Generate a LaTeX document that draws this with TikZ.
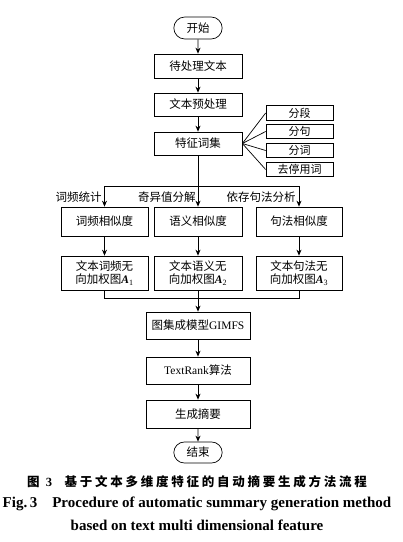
\documentclass[tikz,border=0pt]{standalone}
\usepackage{fontspec}
\setmainfont{Liberation Serif}
\newfontfamily\cjk{Noto Sans CJK SC}
\usetikzlibrary{positioning, arrows.meta, shapes.misc}

\begin{document}
\begin{tikzpicture}[x=1pt, y=-1pt, line width=0.7pt, >={Stealth[length=6pt, width=5pt]},
    box/.style={draw, minimum width=88pt, minimum height=24pt, inner sep=1pt, font=\fontsize{11.5}{13}\selectfont},
    term/.style={draw, rounded rectangle, minimum width=55pt, minimum height=22pt, font=\fontsize{11.5}{13}\selectfont},
    sidebox/.style={draw, minimum width=67pt, minimum height=14.5pt, inner sep=0pt, font=\fontsize{11}{12}\selectfont},
    lbl/.style={inner sep=1pt, font=\fontsize{11.5}{12}\selectfont}]
        \useasboundingbox (0,0) rectangle (403,542);
        \node (start) [term] at (198,28) {\cjk 开始};
        \node (raw) [box] at (198,66) {\cjk 待处理文本};
        \node (pre) [box, minimum height=23pt] at (198,104.5) {\cjk 文本预处理};
        \node (feat) [box, minimum height=23pt] at (198,143.5) {\cjk 特征词集};
        % side steps
        \node (seg) [sidebox] at (299.5,113) {\cjk 分段};
        \node (sen) [sidebox] at (299.5,131.5) {\cjk 分句};
        \node (wrd) [sidebox] at (299.5,150.5) {\cjk 分词};
        \node (stop) [sidebox] at (299.5,169.5) {\cjk 去停用词};
        % three branches
        \coordinate (split) at (198,186);
        \node (simA) [box, minimum width=87pt, minimum height=29pt] at (104.5,221.5) {\cjk 词频相似度};
        \node (simB) [box, minimum height=29pt] at (198,221.5) {\cjk 语义相似度};
        \node (simC) [box, minimum width=86pt, minimum height=29pt] at (299,221.5) {\cjk 句法相似度};
        \node (lA) [lbl, anchor=east] at (103,197) {\cjk 词频统计};
        \node (lB) [lbl, anchor=east] at (197,197) {\cjk 奇异值分解};
        \node (lC) [lbl, anchor=east] at (297,197) {\cjk 依存句法分析};
        \node (grA) [box, minimum width=87pt, minimum height=34pt, align=center] at (104.5,273)
            {{\cjk 文本词频无}\\{\cjk 向加权图}{\bfseries\itshape A}\textsubscript{1}};
        \node (grB) [box, minimum height=34pt, align=center] at (198,273)
            {{\cjk 文本语义无}\\{\cjk 向加权图}{\bfseries\itshape A}\textsubscript{2}};
        \node (grC) [box, minimum width=86pt, minimum height=34pt, align=center] at (299,273)
            {{\cjk 文本句法无}\\{\cjk 向加权图}{\bfseries\itshape A}\textsubscript{3}};
        \coordinate (join) at (198,298);
        % lower chain
        \node (gim) [box, minimum width=104pt, minimum height=27pt] at (198,325.5) {{\cjk 图集成模型}GIMFS};
        \node (rank) [box, minimum width=104pt, minimum height=27pt] at (198,370.5) {TextRank{\cjk 算法}};
        \node (sum) [box, minimum width=104pt, minimum height=28pt] at (198,414) {\cjk 生成摘要};
        \node (end) [term, minimum height=21pt] at (198,452.5) {\cjk 结束};
        % caption
        \node (capA) at (197,482) {\fontsize{12.5}{14}\selectfont\bfseries{\cjk 图}\enspace 3\quad{\cjk\addfontfeature{LetterSpace=22} 基于文本多维度特征的自动摘要生成方法流程}};
        \node (capB) at (197,504) {\fontsize{15}{17}\selectfont\bfseries Fig.\,3\quad Procedure of automatic summary generation method};
        \node (capC) at (197,525) {\fontsize{15}{17}\selectfont\bfseries based on text multi dimensional feature};
        \draw [->] (start) -- (raw);
        \draw [->] (raw) -- (pre);
        \draw [->] (pre) -- (feat);
        \draw (feat.east) -- (seg.west);
        \draw (feat.east) -- (sen.west);
        \draw (feat.east) -- (wrd.west);
        \draw (feat.east) -- (stop.west);
        \draw (feat) -- (split);
        \draw [->] (split) -| (simA);
        \draw [->] (split) -- (simB);
        \draw [->] (split) -| (simC);
        \draw [->] (simA) -- (grA);
        \draw [->] (simB) -- (grB);
        \draw [->] (simC) -- (grC);
        \draw (grA) |- (join);
        \draw (grC) |- (join);
        \draw (grB) -- (join);
        \draw [->] (join) -- (gim);
        \draw [->] (gim) -- (rank);
        \draw [->] (rank) -- (sum);
        \draw [->] (sum) -- (end);
    \end{tikzpicture}
\end{document}
